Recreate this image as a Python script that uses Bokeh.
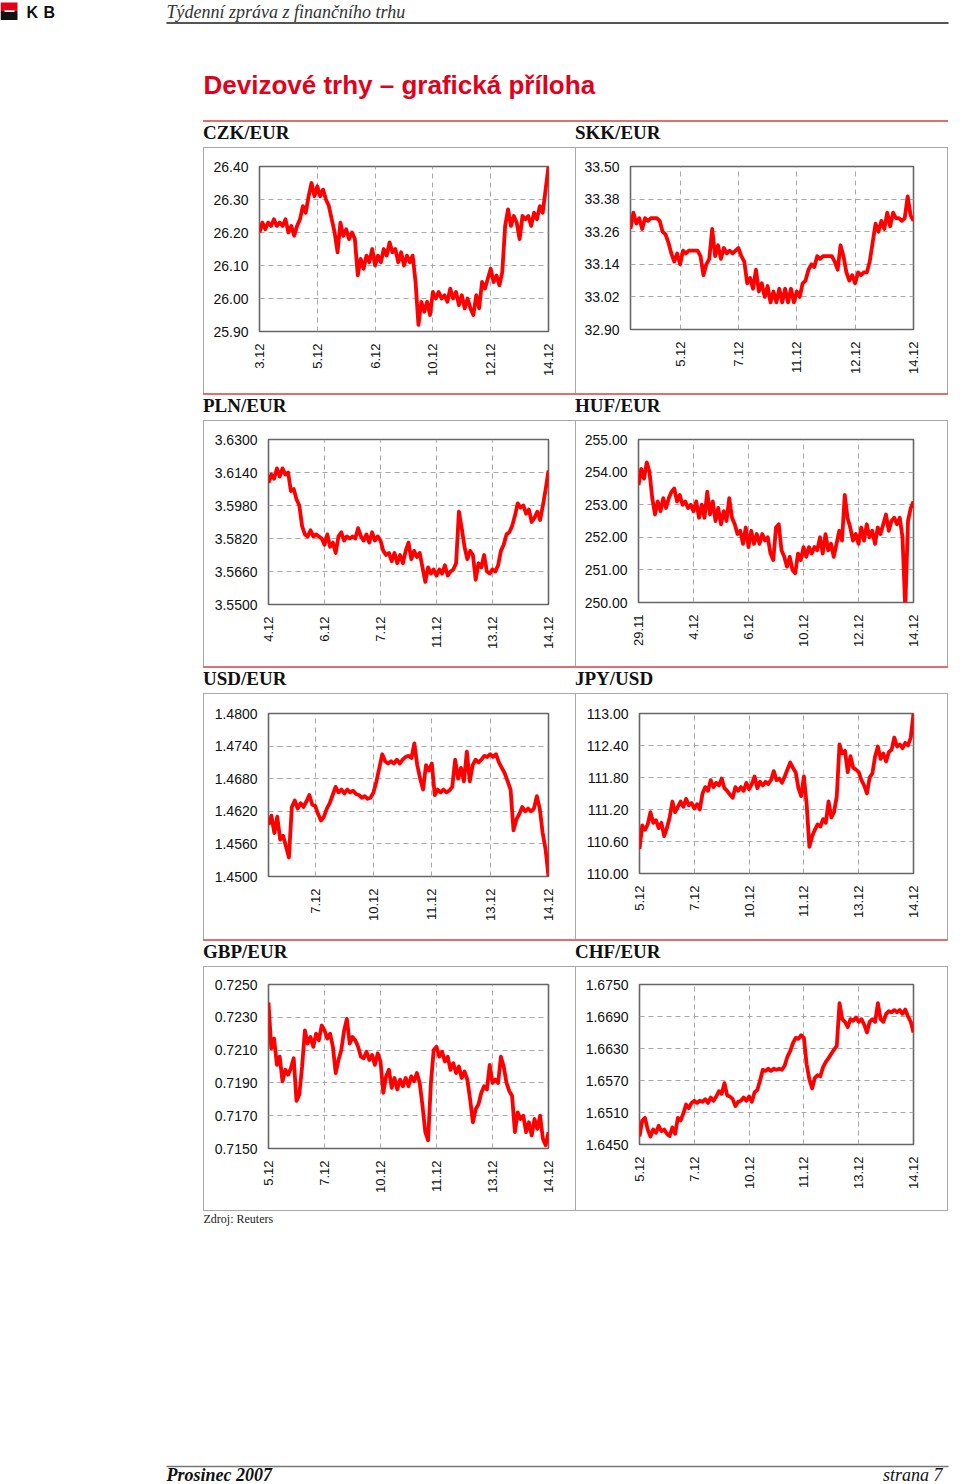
import numpy as np
from bokeh.plotting import figure
from bokeh.models import Range1d, FixedTicker, NumeralTickFormatter, Spacer, Div
from bokeh.layouts import column, row
from bokeh.embed import file_html
from bokeh.resources import INLINE
from bokeh.core.properties import value

# ---------------- data ----------------
czk_xlabels = ["3.12", "5.12", "6.12", "10.12", "12.12", "14.12"]
czk_yticks = [25.90, 26.00, 26.10, 26.20, 26.30, 26.40]
czk = [26.20, 26.23, 26.21, 26.23, 26.22, 26.24, 26.22, 26.23, 26.22, 26.24,
       26.20, 26.22, 26.19, 26.22, 26.24, 26.28, 26.26, 26.31, 26.35, 26.31,
       26.34, 26.31, 26.33, 26.30, 26.28, 26.24, 26.20, 26.14, 26.23, 26.19,
       26.21, 26.18, 26.20, 26.18, 26.07, 26.12, 26.09, 26.13, 26.11, 26.15,
       26.10, 26.13, 26.11, 26.15, 26.13, 26.17, 26.14, 26.15, 26.11, 26.14,
       26.10, 26.13, 26.11, 26.13, 26.05, 25.92, 25.99, 25.96, 25.99, 25.95,
       26.02, 26.00, 26.02, 26.00, 26.01, 25.99, 26.03, 26.00, 26.02, 25.98,
       26.01, 25.97, 26.00, 25.97, 25.95, 26.01, 25.97, 26.05, 26.03, 26.06,
       26.09, 26.05, 26.07, 26.04, 26.08, 26.22, 26.27, 26.22, 26.25, 26.23,
       26.18, 26.25, 26.24, 26.25, 26.22, 26.26, 26.24, 26.28, 26.26, 26.33,
       26.40]

skk_xlabels = ["5.12", "7.12", "11.12", "12.12", "14.12"]
skk_yticks = [32.90, 33.02, 33.14, 33.26, 33.38, 33.50]
skk = [33.27, 33.33, 33.29, 33.31, 33.27, 33.31, 33.30, 33.31, 33.31, 33.31,
       33.30, 33.26, 33.25, 33.22, 33.18, 33.15, 33.18, 33.14, 33.19, 33.18,
       33.19, 33.19, 33.19, 33.19, 33.17, 33.10, 33.14, 33.16, 33.27, 33.17,
       33.21, 33.16, 33.20, 33.18, 33.19, 33.18, 33.19, 33.20, 33.17, 33.15,
       33.07, 33.09, 33.05, 33.12, 33.04, 33.07, 33.02, 33.06, 33.00, 33.04,
       33.00, 33.05, 33.00, 33.05, 33.00, 33.05, 33.00, 33.04, 33.02, 33.07,
       33.08, 33.12, 33.14, 33.13, 33.17, 33.16, 33.17, 33.17, 33.17, 33.17,
       33.15, 33.12, 33.21, 33.17, 33.11, 33.08, 33.10, 33.07, 33.11, 33.10,
       33.11, 33.11, 33.15, 33.22, 33.29, 33.26, 33.30, 33.27, 33.33, 33.28,
       33.33, 33.31, 33.31, 33.30, 33.31, 33.39, 33.32, 33.30]

pln_xlabels = ["4.12", "6.12", "7.12", "11.12", "13.12", "14.12"]
pln_yticks = [3.5500, 3.5660, 3.5820, 3.5980, 3.6140, 3.6300]
pln = [3.6090, 3.6130, 3.6110, 3.6160, 3.6120, 3.6160, 3.6130, 3.6140, 3.6050, 3.6060,
       3.6010, 3.5980, 3.5880, 3.5840, 3.5830, 3.5860, 3.5830, 3.5840, 3.5830, 3.5820,
       3.5790, 3.5840, 3.5780, 3.5800, 3.5750, 3.5830, 3.5850, 3.5810, 3.5830, 3.5820,
       3.5830, 3.5820, 3.5870, 3.5830, 3.5810, 3.5840, 3.5800, 3.5850, 3.5810, 3.5830,
       3.5810, 3.5760, 3.5740, 3.5750, 3.5710, 3.5750, 3.5700, 3.5740, 3.5700, 3.5760,
       3.5800, 3.5720, 3.5760, 3.5730, 3.5750, 3.5680, 3.5610, 3.5680, 3.5650, 3.5670,
       3.5640, 3.5670, 3.5650, 3.5690, 3.5640, 3.5660, 3.5670, 3.5700, 3.5950, 3.5870,
       3.5780, 3.5720, 3.5760, 3.5740, 3.5620, 3.5700, 3.5680, 3.5740, 3.5660, 3.5650,
       3.5670, 3.5660, 3.5690, 3.5760, 3.5790, 3.5840, 3.5850, 3.5880, 3.5930, 3.5990,
       3.5970, 3.5980, 3.5940, 3.5960, 3.5900, 3.5920, 3.5950, 3.5910, 3.5980, 3.6060,
       3.6150]

huf_xlabels = ["29.11", "4.12", "6.12", "10.12", "12.12", "14.12"]
huf_yticks = [250.00, 251.00, 252.00, 253.00, 254.00, 255.00]
huf = [253.6, 254.1, 253.8, 254.3, 254.0, 253.2, 252.7, 253.1, 252.8, 253.2,
       252.9, 253.2, 253.4, 253.5, 253.1, 253.3, 253.0, 253.1, 252.9, 253.0,
       252.8, 253.1, 252.6, 253.0, 252.6, 253.4, 252.7, 253.1, 252.5, 252.9,
       252.4, 252.8, 252.5, 253.2, 252.6, 252.4, 252.1, 252.2, 251.8, 252.3,
       251.7, 252.2, 251.8, 252.1, 251.8, 252.1, 251.9, 252.0, 251.5, 251.3,
       252.3, 252.4, 251.6, 251.4, 251.1, 251.4, 251.0, 250.9, 251.5, 251.3,
       251.7, 251.4, 251.7, 251.5, 251.7, 251.6, 252.0, 251.5, 252.1, 251.6,
       251.8, 251.4, 251.8, 252.2, 251.9, 253.3, 252.6, 252.3, 251.9, 252.1,
       251.8, 252.3, 251.9, 252.4, 252.0, 252.2, 251.8, 252.3, 252.1, 252.4,
       252.7, 252.2, 252.5, 252.6, 252.4, 252.6, 252.0, 249.8, 252.5, 252.9,
       253.1]

usd_xlabels = ["7.12", "10.12", "11.12", "13.12", "14.12"]
usd_yticks = [1.4500, 1.4560, 1.4620, 1.4680, 1.4740, 1.4800]
usd = [1.4595, 1.4612, 1.4580, 1.4610, 1.4568, 1.4575, 1.4555, 1.4535, 1.4628, 1.4640,
       1.4625, 1.4635, 1.4628, 1.4638, 1.4650, 1.4632, 1.4630, 1.4615, 1.4603, 1.4610,
       1.4625, 1.4635, 1.4650, 1.4665, 1.4655, 1.4660, 1.4653, 1.4660, 1.4655, 1.4658,
       1.4652, 1.4650, 1.4645, 1.4648, 1.4643, 1.4645, 1.4655, 1.4675, 1.4700, 1.4725,
       1.4712, 1.4708, 1.4712, 1.4708, 1.4715, 1.4708, 1.4715, 1.4720, 1.4722, 1.4718,
       1.4745, 1.4705, 1.4680, 1.4660, 1.4705, 1.4695, 1.4708, 1.4650, 1.4660, 1.4655,
       1.4660, 1.4655, 1.4658, 1.4665, 1.4715, 1.4680, 1.4700, 1.4675, 1.4730, 1.4675,
       1.4705, 1.4715, 1.4710, 1.4715, 1.4722, 1.4720, 1.4725, 1.4720, 1.4725, 1.4710,
       1.4700, 1.4690, 1.4675, 1.4660, 1.4585, 1.4605, 1.4615, 1.4628, 1.4620, 1.4625,
       1.4620, 1.4625, 1.4648, 1.4625, 1.4580, 1.4550, 1.4500]

jpy_xlabels = ["5.12", "7.12", "10.12", "11.12", "13.12", "14.12"]
jpy_yticks = [110.00, 110.60, 111.20, 111.80, 112.40, 113.00]
jpy = [110.46, 110.90, 110.82, 110.92, 111.15, 110.95, 111.00, 110.85, 110.95, 110.70,
       110.85, 111.05, 111.35, 111.15, 111.25, 111.35, 111.25, 111.40, 111.28, 111.32,
       111.22, 111.30, 111.20, 111.50, 111.62, 111.55, 111.75, 111.62, 111.70, 111.65,
       111.78, 111.60, 111.55, 111.48, 111.42, 111.62, 111.55, 111.62, 111.55, 111.70,
       111.58, 111.68, 111.82, 111.60, 111.72, 111.65, 111.72, 111.68, 111.75, 111.92,
       111.75, 111.78, 111.70, 111.82, 111.95, 112.08, 111.98, 111.90, 111.60, 111.45,
       111.82, 111.30, 110.50, 110.70, 110.82, 110.92, 110.88, 111.02, 110.95, 111.35,
       111.05, 111.15, 111.45, 112.42, 112.25, 112.30, 111.90, 112.20, 111.98, 111.95,
       111.90, 111.75, 111.65, 111.50, 111.80, 111.88, 112.20, 112.38, 112.15, 112.25,
       112.10, 112.28, 112.32, 112.55, 112.38, 112.42, 112.35, 112.45, 112.40, 112.55,
       113.00]

gbp_xlabels = ["5.12", "7.12", "10.12", "11.12", "13.12", "14.12"]
gbp_yticks = [0.7150, 0.7170, 0.7190, 0.7210, 0.7230, 0.7250]
gbp = [0.7239, 0.7211, 0.7217, 0.7201, 0.7206, 0.7191, 0.7198, 0.7195, 0.7199, 0.7205,
       0.7179, 0.7183, 0.7200, 0.7222, 0.7214, 0.7218, 0.7212, 0.7220, 0.7216, 0.7225,
       0.7222, 0.7217, 0.7220, 0.7212, 0.7196, 0.7204, 0.7210, 0.7222, 0.7229, 0.7214,
       0.7218, 0.7216, 0.7212, 0.7206, 0.7205, 0.7209, 0.7204, 0.7207, 0.7201, 0.7208,
       0.7203, 0.7184, 0.7194, 0.7198, 0.7187, 0.7193, 0.7186, 0.7192, 0.7188, 0.7193,
       0.7188, 0.7194, 0.7191, 0.7196, 0.7190, 0.7176, 0.7160, 0.7155, 0.7190, 0.7210,
       0.7212, 0.7206, 0.7209, 0.7203, 0.7206, 0.7198, 0.7202, 0.7196, 0.7200, 0.7193,
       0.7197, 0.7192, 0.7180, 0.7166, 0.7174, 0.7177, 0.7184, 0.7188, 0.7186, 0.7201,
       0.7190, 0.7192, 0.7190, 0.7206, 0.7200, 0.7190, 0.7185, 0.7182, 0.7160, 0.7172,
       0.7168, 0.7170, 0.7160, 0.7166, 0.7158, 0.7168, 0.7162, 0.7170, 0.7156, 0.7152,
       0.7160]

chf_xlabels = ["5.12", "7.12", "10.12", "11.12", "13.12", "14.12"]
chf_yticks = [1.6450, 1.6510, 1.6570, 1.6630, 1.6690, 1.6750]
chf = [1.6465, 1.6495, 1.6500, 1.6478, 1.6465, 1.6478, 1.6472, 1.6485, 1.6475, 1.6478,
       1.6470, 1.6466, 1.6482, 1.6470, 1.6500, 1.6495, 1.6508, 1.6525, 1.6518, 1.6528,
       1.6532, 1.6528, 1.6532, 1.6530, 1.6535, 1.6528, 1.6538, 1.6532, 1.6540, 1.6550,
       1.6545, 1.6565, 1.6542, 1.6540, 1.6535, 1.6522, 1.6530, 1.6532, 1.6538, 1.6532,
       1.6540, 1.6530, 1.6548, 1.6552, 1.6570, 1.6590, 1.6588, 1.6592, 1.6588, 1.6592,
       1.6590, 1.6592, 1.6590, 1.6598, 1.6615, 1.6625, 1.6640, 1.6650, 1.6648, 1.6655,
       1.6650, 1.6600, 1.6572, 1.6555, 1.6575, 1.6580, 1.6578, 1.6595, 1.6605, 1.6612,
       1.6620, 1.6628, 1.6635, 1.6715, 1.6685, 1.6680, 1.6670, 1.6685, 1.6682, 1.6688,
       1.6680, 1.6685, 1.6675, 1.6660, 1.6680, 1.6685, 1.6680, 1.6715, 1.6685, 1.6680,
       1.6695, 1.6700, 1.6698, 1.6702, 1.6698, 1.6702, 1.6695, 1.6703, 1.6690, 1.6680,
       1.6660]

# ---------------- styling ----------------
RED = "#e3001b"
RED_RULE = "#e07070"
BOX_GRAY = "#a9a9a9"
FRAME_GRAY = "#666666"
GRID_GRAY = "#a8a8a8"
SANS = "Liberation Sans"
SERIF = "Liberation Serif"


def bar(w, h, color):
    return Div(text="", width=w, height=h, margin=0,
               styles={"background-color": color, "padding": "0", "margin": "0"})


def chart(vals, x_start, xlabels, yticks, yfmt, W, H, ml, mr, mt, mb):
    n_lab = len(xlabels)
    xticks = list(range(6 - n_lab, 6))
    p = figure(width=W, height=H, title=None,
               x_range=Range1d(x_start, 5.0),
               y_range=Range1d(yticks[0], yticks[-1]),
               toolbar_location=None, output_backend="svg",
               min_border_left=ml, min_border_right=mr,
               min_border_top=mt, min_border_bottom=mb)
    p.background_fill_color = "white"
    p.border_fill_color = "white"
    p.outline_line_color = FRAME_GRAY
    p.outline_line_width = 1.6

    xs = np.linspace(x_start, 5.0, len(vals))
    p.line(xs, vals, line_color="#ff0000", line_width=3.8, line_join="round")

    xa = p.xaxis[0]
    xa.ticker = FixedTicker(ticks=xticks)
    xa.major_label_overrides = {t: l for t, l in zip(xticks, xlabels)}
    xa.major_label_orientation = np.pi / 2
    xa.axis_line_color = None
    xa.major_tick_line_color = None
    xa.minor_tick_line_color = None
    xa.major_tick_out = 0
    xa.major_tick_in = 0
    xa.major_label_standoff = 12
    xa.major_label_text_font = SANS
    xa.major_label_text_font_size = "13px"
    xa.major_label_text_color = "#111111"

    ya = p.yaxis[0]
    ya.ticker = FixedTicker(ticks=yticks)
    ya.formatter = NumeralTickFormatter(format=yfmt)
    ya.axis_line_color = None
    ya.major_tick_line_color = None
    ya.minor_tick_line_color = None
    ya.major_tick_out = 0
    ya.major_tick_in = 0
    ya.major_label_standoff = 11
    ya.major_label_text_font = SANS
    ya.major_label_text_font_size = "14px"
    ya.major_label_text_color = "#111111"

    p.xgrid[0].ticker = FixedTicker(ticks=[t for t in xticks if 0 < t < 5])
    p.ygrid[0].ticker = FixedTicker(ticks=yticks[1:-1])
    for g in (p.xgrid[0], p.ygrid[0]):
        g.grid_line_color = GRID_GRAY
        g.grid_line_dash = "5 4"
        g.grid_line_width = 1
    return p


def panel(title, vals, x_start, xlabels, yticks, yfmt, W, H,
          ml, mr, mt, mb, right_side, last_row):
    # cell layout: red rule (2) | label (25) | gray top line (1) | chart box
    rule = bar(W, 2, RED_RULE)
    label = Div(text=title, width=W, height=25, margin=0,
                styles={"font-family": SERIF, "font-weight": "bold",
                        "font-size": "19px", "line-height": "22px",
                        "color": "#111111", "white-space": "nowrap"})
    top_line = bar(W, 1, BOX_GRAY)
    ch_h = H - 28 - (1 if last_row else 0)
    fig_w = W - 1 - (1 if right_side else 0)
    p = chart(vals, x_start, xlabels, yticks, yfmt, fig_w, ch_h,
              ml - 1, mr - (1 if right_side else 0), mt - 28,
              mb - (1 if last_row else 0))
    parts = [bar(1, ch_h, BOX_GRAY), p]
    if right_side:
        parts.append(bar(1, ch_h, BOX_GRAY))
    items = [rule, label, top_line, row(*parts, spacing=0)]
    if last_row:
        items.append(bar(W, 1, BOX_GRAY))
    return column(*items, spacing=0)


rows_spec = [
    (("CZK/EUR", czk, 0.0, czk_xlabels, czk_yticks, "0.00", 56, 27, 46, 62),
     ("SKK/EUR", skk, 0.15, skk_xlabels, skk_yticks, "0.00", 55, 35, 46, 64), 273),
    (("PLN/EUR", pln, 0.0, pln_xlabels, pln_yticks, "0.0000", 65, 27, 46, 62),
     ("HUF/EUR", huf, 0.0, huf_xlabels, huf_yticks, "0.00", 63, 35, 46, 64), 273),
    (("USD/EUR", usd, 0.2, usd_xlabels, usd_yticks, "0.0000", 65, 27, 47, 63),
     ("JPY/USD", jpy, 0.0, jpy_xlabels, jpy_yticks, "0.00", 64, 35, 47, 66), 273),
    (("GBP/EUR", gbp, 0.0, gbp_xlabels, gbp_yticks, "0.0000", 65, 27, 45, 63),
     ("CHF/EUR", chf, 0.0, chf_xlabels, chf_yticks, "0.0000", 64, 35, 45, 67), 272),
]

# ---------------- header ----------------
hdr = figure(width=960, height=120, x_range=Range1d(0, 960), y_range=Range1d(120, 0),
             toolbar_location=None, output_backend="svg", min_border=0,
             x_axis_location=None, y_axis_location=None)
hdr.grid.visible = False
hdr.outline_line_color = None
hdr.quad(left=[0], right=[17], top=[2], bottom=[10.5], fill_color="#e3001b", line_color=None)
hdr.quad(left=[0], right=[17], top=[10.5], bottom=[19.5], fill_color="#111111", line_color=None)
hdr.quad(left=[4], right=[14], top=[9.8], bottom=[11.4], fill_color="white", line_color=None)
hdr.text(x=[26, 43], y=[11.5, 11.5], text=["K", "B"], text_font=value(SANS),
         text_font_style="bold", text_font_size="16px", text_baseline="middle",
         text_color="#111111")
hdr.text(x=[166], y=[11], text=["Týdenní zpráva z finančního trhu"], text_font=value(SERIF),
         text_font_style="italic", text_font_size="18px", text_baseline="middle",
         text_color="#333333")
hdr.segment(x0=[166], x1=[948], y0=[22.5], y1=[22.5], line_color="#555555", line_width=2)
hdr.text(x=[203], y=[84], text=["Devizové trhy – grafická příloha"], text_font=value(SANS),
         text_font_style="bold", text_font_size="26px", text_baseline="middle",
         text_color=RED)

# ---------------- footer ----------------
ftr = figure(width=960, height=273, x_range=Range1d(0, 960), y_range=Range1d(1484, 1211),
             toolbar_location=None, output_backend="svg", min_border=0,
             x_axis_location=None, y_axis_location=None)
ftr.grid.visible = False
ftr.outline_line_color = None
ftr.text(x=[203], y=[1218], text=["Zdroj: Reuters"], text_font=value(SERIF),
         text_font_size="12px", text_baseline="middle", text_color="#222222")
ftr.segment(x0=[166], x1=[948], y0=[1466], y1=[1466], line_color="#777777", line_width=1.5)
ftr.text(x=[166], y=[1474], text=["Prosinec 2007"], text_font=value(SERIF),
         text_font_style="bold italic", text_font_size="18px", text_baseline="middle",
         text_color="#111111")
ftr.text(x=[942], y=[1474], text=["strana 7"], text_font=value(SERIF),
         text_font_style="italic", text_font_size="18px", text_baseline="middle",
         text_align="right", text_color="#111111")

items = [hdr]
for i, (lspec, rspec, H) in enumerate(rows_spec):
    last = (i == len(rows_spec) - 1)
    lt, lv, lx, lxl, lyt, lf, lml, lmr, lmt, lmb = lspec
    rt, rv, rx, rxl, ryt, rf, rml, rmr, rmt, rmb = rspec
    pl = panel(lt, lv, lx, lxl, lyt, lf, 372, H, lml, lmr, lmt, lmb, False, last)
    pr = panel(rt, rv, rx, rxl, ryt, rf, 373, H, rml, rmr, rmt, rmb, True, last)
    items.append(row(Spacer(width=203, height=H), pl, pr, Spacer(width=12, height=H),
                     spacing=0))
items.append(ftr)

page = column(*items, spacing=0)
open("out.html", "w").write(file_html(page, INLINE))
